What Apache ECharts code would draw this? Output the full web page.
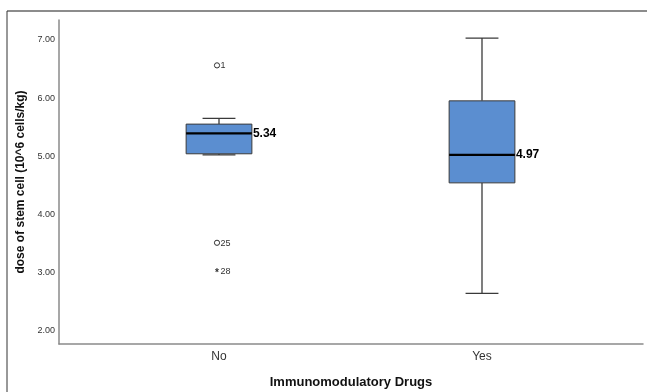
<!DOCTYPE html>
<html>
<head>
<meta charset="utf-8">
<script src="https://cdn.jsdelivr.net/npm/echarts@6/dist/echarts.min.js"></script>
<style>
  html, body { margin: 0; padding: 0; background: #fff; }
  #chart { width: 647px; height: 392px; }
</style>
</head>
<body>
<div id="chart"></div>
<script>
// Groups on the horizontal axis
var categories = ['No', 'Yes'];

// Five-number summaries per group (10^6 cells/kg)
var lowerWhisker = [4.97, 2.59];
var q1 = [4.99, 4.49];
var median = [5.34, 4.97];
var q3 = [5.50, 5.90];
var upperWhisker = [5.60, 6.98];

// Outlying cases: group index, value, case number
var outlierGroup = [0, 0];
var outlierValue = [6.51, 3.46];
var outlierCase = ['1', '25'];

// Extreme cases (drawn with an asterisk)
var extremeGroup = [0];
var extremeValue = [2.97];
var extremeCase = ['28'];

// Value axis tick labels
var yTicks = [2, 3, 4, 5, 6, 7];
var yMin = 1.72, yMax = 7.29;

var boxData = categories.map(function (c, i) {
  return [i, lowerWhisker[i], q1[i], median[i], q3[i], upperWhisker[i]];
});
var outlierData = outlierValue.map(function (v, i) {
  return [outlierGroup[i], v];
});
var extremeData = extremeValue.map(function (v, i) {
  return [extremeGroup[i], v];
});

var FONT = 'Liberation Sans, Arial, sans-serif';
var BOX_FILL = '#5b8ed0';
var EDGE = '#3a3a3a';

function renderBox(params, api) {
  var idx = api.value(0);
  var band = api.size([1, 0])[0];
  var half = band * 0.125;
  var cap = half / 2;
  var pLow = api.coord([idx, api.value(1)]);
  var pQ1 = api.coord([idx, api.value(2)]);
  var pMed = api.coord([idx, api.value(3)]);
  var pQ3 = api.coord([idx, api.value(4)]);
  var pHigh = api.coord([idx, api.value(5)]);
  var x = pMed[0];
  var lineStyle = { stroke: EDGE, lineWidth: 1.3 };
  return {
    type: 'group',
    children: [
      { type: 'line', shape: { x1: x, y1: pQ3[1], x2: x, y2: pHigh[1] }, style: lineStyle },
      { type: 'line', shape: { x1: x, y1: pQ1[1], x2: x, y2: pLow[1] }, style: lineStyle },
      { type: 'line', shape: { x1: x - cap, y1: pHigh[1], x2: x + cap, y2: pHigh[1] }, style: lineStyle },
      { type: 'line', shape: { x1: x - cap, y1: pLow[1], x2: x + cap, y2: pLow[1] }, style: lineStyle },
      { type: 'rect', shape: { x: x - half, y: pQ3[1], width: half * 2, height: pQ1[1] - pQ3[1] },
        style: { fill: BOX_FILL, stroke: EDGE, lineWidth: 1 } },
      { type: 'line', shape: { x1: x - half, y1: pMed[1], x2: x + half, y2: pMed[1] },
        style: { stroke: '#000', lineWidth: 2.2 } },
      { type: 'text', x: x + half + 1, y: pMed[1],
        style: { text: api.value(3).toFixed(2), fill: '#000', font: 'bold 12px ' + FONT,
                 verticalAlign: 'middle', align: 'left' } }
    ]
  };
}

function renderOutlier(params, api) {
  var p = api.coord([api.value(0), api.value(1)]);
  return {
    type: 'group',
    children: [
      { type: 'circle', shape: { cx: p[0] - 2, cy: p[1], r: 2.6 },
        style: { fill: '#fff', stroke: '#333', lineWidth: 1 } },
      { type: 'text', x: p[0] + 1.5, y: p[1] + 0.5,
        style: { text: outlierCase[params.dataIndex], fill: '#333', font: '9px ' + FONT,
                 align: 'left', verticalAlign: 'middle' } }
    ]
  };
}

function renderExtreme(params, api) {
  var p = api.coord([api.value(0), api.value(1)]);
  return {
    type: 'group',
    children: [
      { type: 'text', x: p[0] - 2, y: p[1] + 2,
        style: { text: '*', fill: '#333', font: 'bold 10px ' + FONT, align: 'center', verticalAlign: 'middle' } },
      { type: 'text', x: p[0] + 1.5, y: p[1] + 0.5,
        style: { text: extremeCase[params.dataIndex], fill: '#333', font: '9px ' + FONT,
                 align: 'left', verticalAlign: 'middle' } }
    ]
  };
}

var chart = echarts.init(document.getElementById('chart'), null, { renderer: 'canvas' });

chart.setOption({
  animation: false,
  backgroundColor: '#fff',
  grid: [
    { left: 87.5, right: 33.5, top: 20, bottom: 48, outerBoundsMode: 'none', containLabel: false },
    { left: 59, right: 4, top: 20, bottom: 48, outerBoundsMode: 'none', containLabel: false }
  ],
  xAxis: [
    {
      type: 'category', gridIndex: 0, data: categories,
      axisLine: { show: false }, axisTick: { show: false },
      axisLabel: { color: '#333', fontSize: 12, fontFamily: FONT, margin: 7 }
    },
    {
      type: 'value', gridIndex: 1, min: 0, max: 1,
      axisLine: { show: true, onZero: false, lineStyle: { color: '#8a8a8a', width: 1.5 } },
      axisTick: { show: false }, axisLabel: { show: false }, splitLine: { show: false },
      name: 'Immunomodulatory Drugs', nameLocation: 'middle', nameGap: 32,
      nameTextStyle: { color: '#111', fontSize: 13, fontWeight: 'bold', fontFamily: FONT }
    }
  ],
  yAxis: [
    {
      type: 'value', gridIndex: 0, min: yMin, max: yMax,
      axisLine: { show: false }, axisTick: { show: false },
      axisLabel: { show: false }, splitLine: { show: false }
    },
    {
      type: 'value', gridIndex: 1, min: yMin, max: yMax,
      axisLine: { show: true, lineStyle: { color: '#8a8a8a', width: 1.5 } },
      axisTick: { show: false },
      splitLine: { show: false },
      axisLabel: {
        customValues: yTicks,
        formatter: function (v) { return v.toFixed(2); },
        color: '#333', fontSize: 9, fontFamily: FONT, margin: 4,
        verticalAlign: 'top', lineHeight: 6
      },
      name: 'dose of stem cell (10^6 cells/kg)', nameLocation: 'middle', nameGap: 28,
      nameTextStyle: { color: '#111', fontSize: 12, fontWeight: 'bold', fontFamily: FONT }
    }
  ],
  graphic: [
    { type: 'line', shape: { x1: 7, y1: 11, x2: 647, y2: 11 }, style: { stroke: '#666', lineWidth: 1.5 } },
    { type: 'line', shape: { x1: 7, y1: 11, x2: 7, y2: 392 }, style: { stroke: '#333', lineWidth: 1 } }
  ],
  series: [
    {
      type: 'custom', xAxisIndex: 0, yAxisIndex: 0,
      renderItem: renderBox, data: boxData,
      encode: { x: 0, y: [1, 2, 3, 4, 5] }
    },
    {
      type: 'custom', xAxisIndex: 0, yAxisIndex: 0,
      renderItem: renderOutlier, data: outlierData,
      encode: { x: 0, y: 1 }
    },
    {
      type: 'custom', xAxisIndex: 0, yAxisIndex: 0,
      renderItem: renderExtreme, data: extremeData,
      encode: { x: 0, y: 1 }
    }
  ]
});
</script>
</body>
</html>
